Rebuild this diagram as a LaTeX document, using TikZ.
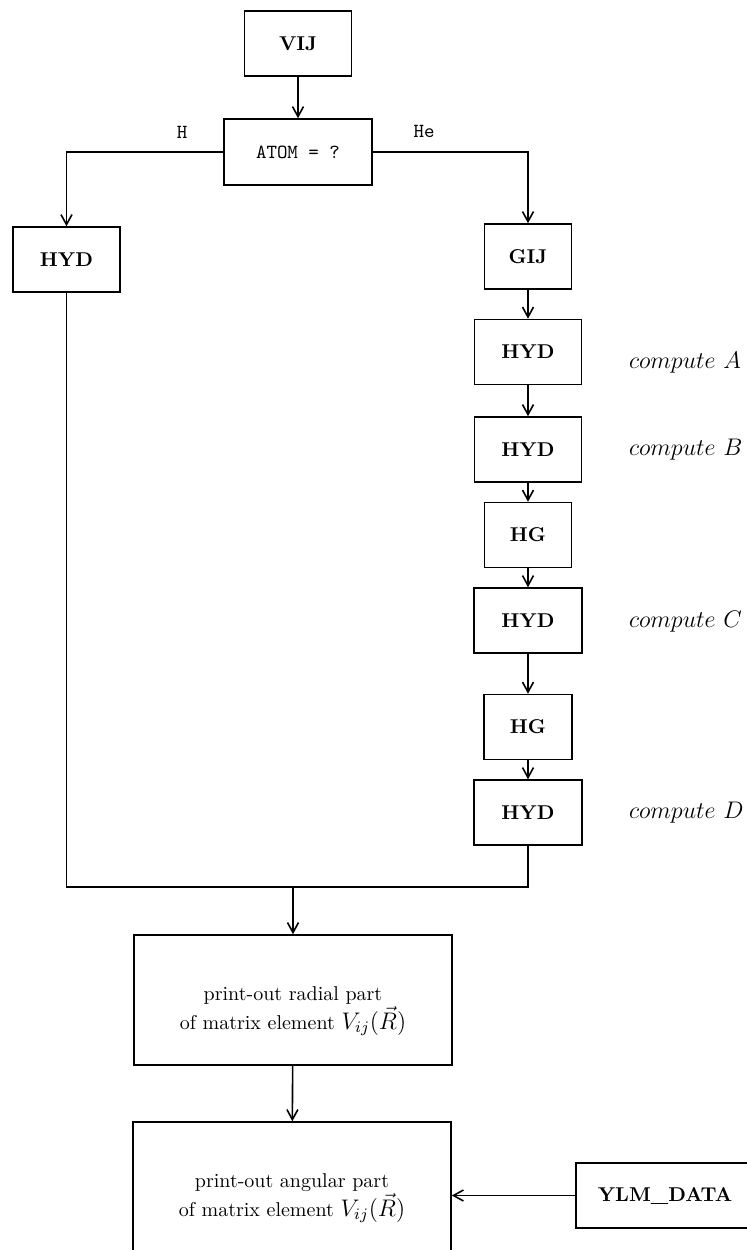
\documentclass[tikz,border=0pt]{standalone}
\usepackage{amsmath}
\usetikzlibrary{arrows.meta}

\tikzset{
  box/.style={draw,line width=0.8pt,minimum height=32.5pt,inner sep=2pt,font=\bfseries},
  bigbox/.style={draw,line width=0.8pt,minimum width=159pt,minimum height=65pt,align=center},
  flow/.style={->,line width=0.8pt},
  note/.style={anchor=west,font=\large},
}
\newcommand{\vijr}{{\large$V_{ij}(\vec{R})$}}

\begin{document}
\begin{tikzpicture}[x=0.5pt,y=-0.5pt,>={Straight Barb[length=5pt,width=5.5pt]}]
  \useasboundingbox (0,0) rectangle (747,1250);
  % top of the tree
  \node[box,minimum width=53.5pt] (vij) at (298,43.5) {VIJ};
  \node[box,minimum width=74pt,minimum height=33pt,font=\ttfamily] (atom) at (298,152) {ATOM = ?};
  \node[font=\ttfamily] (labH) at (182,132) {H};
  \node[font=\ttfamily] (labHe) at (424,131) {He};
  \node[box,minimum width=53.5pt] (hydH) at (66.5,259.5) {HYD};
  % He branch
  \foreach \n/\t/\y/\w in {gij/GIJ/256.5/43.5pt, hydA/HYD/352/53.5pt,
      hydB/HYD/449.5/53.5pt, hgA/HG/535/43.5pt, hydC/HYD/620.5/54pt,
      hgB/HG/727/44pt, hydD/HYD/812.5/54pt}
    \node[box,minimum width=\w] (\n) at (528,\y) {\t};
  \foreach \n/\t/\y in {cmpA/A/363, cmpB/B/450, cmpC/C/622, cmpD/D/813}
    \node[note] (\n) at (622,\y) {$compute\ \t$};
  % output
  \node[bigbox] (radial) at (293,1000)
    {\rule{0pt}{18pt}print-out radial part\\ of matrix element \vijr};
  \node[bigbox] (angular) at (292,1187)
    {\rule{0pt}{18pt}print-out angular part\\ of matrix element \vijr};
  \node[box,minimum width=89pt] (ylm) at (665,1195.5) {YLM\_DATA};
  % connectors
  \draw[flow] (vij) -- (atom);
  \draw[flow] (atom.west) -| (hydH);
  \draw[flow] (atom.east) -| (gij);
  \foreach \a/\b in {gij/hydA,hydA/hydB,hydB/hgA,hgA/hydC,hydC/hgB,hgB/hydD}
    \draw[flow] (\a) -- (\b);
  \coordinate (merge) at (293,887);
  \draw[line width=0.8pt] (hydH) |- (merge) -| (hydD);
  \draw[flow] (merge) -- (radial);
  \draw[flow] (radial) -- (angular);
  \draw[flow] (ylm.west) -- (ylm.west -| angular.east);
\end{tikzpicture}
\end{document}
